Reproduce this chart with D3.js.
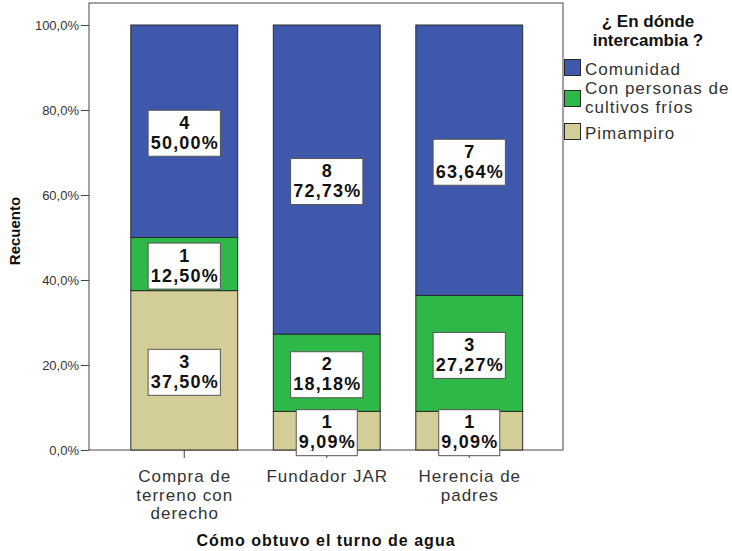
<!DOCTYPE html>
<html>
<head>
<meta charset="utf-8">
<script src="https://cdn.jsdelivr.net/npm/d3@7"></script>
<style>
  html, body { margin: 0; padding: 0; background: #fff; }
  svg { display: block; font-family: "Liberation Sans", Arial, sans-serif; }
</style>
</head>
<body>
<svg id="chart" width="732" height="551"></svg>
<script>
// ---- data ----
const categories = ["Compra de terreno con derecho", "Fundador JAR", "Herencia de padres"];
const categoryLines = [["Compra de", "terreno con", "derecho"], ["Fundador JAR"], ["Herencia de", "padres"]];
const seriesNames = ["Comunidad", "Con personas de cultivos fríos", "Pimampiro"];
const seriesLegendLines = [["Comunidad"], ["Con personas de", "cultivos fríos"], ["Pimampiro"]];
const comunidadCount = [4, 8, 7];
const conPersonasCount = [1, 2, 3];
const pimampiroCount = [3, 1, 1];
const comunidadPct = [50.00, 72.73, 63.64];
const conPersonasPct = [12.50, 18.18, 27.27];
const pimampiroPct = [37.50, 9.09, 9.09];
const yTicks = [0, 20, 40, 60, 80, 100];
const colors = ["#3E58AC", "#2EB848", "#D3CE97"];

const svg = d3.select("#chart");
const frame = { left: 89, top: 3, right: 563, bottom: 450 };

const y = d3.scaleLinear().domain([0, 100]).range([450, 25]);
const x = d3.scaleBand().domain(categories).range([113, 540.5])
  .paddingInner(0.25).paddingOuter(0.125);

// stacked rows: bottom -> top
const rows = categories.map((c, i) => ({
  cat: c,
  Pimampiro: pimampiroPct[i],
  "Con personas de cultivos fríos": conPersonasPct[i],
  Comunidad: comunidadPct[i],
  counts: { Pimampiro: pimampiroCount[i], "Con personas de cultivos fríos": conPersonasCount[i], Comunidad: comunidadCount[i] }
}));
const stackKeys = ["Pimampiro", "Con personas de cultivos fríos", "Comunidad"];
const stacked = d3.stack().keys(stackKeys)(rows);
const color = d3.scaleOrdinal().domain(seriesNames).range(colors);

// frame
svg.append("rect")
  .attr("x", frame.left).attr("y", frame.top)
  .attr("width", frame.right - frame.left).attr("height", frame.bottom - frame.top)
  .attr("fill", "none").attr("stroke", "#444").attr("stroke-width", 1);

// bars
const g = svg.append("g");
stacked.forEach(layer => {
  g.selectAll(null).data(layer).enter().append("rect")
    .attr("x", d => x(d.data.cat))
    .attr("y", d => y(d[1]))
    .attr("width", x.bandwidth())
    .attr("height", d => y(d[0]) - y(d[1]))
    .attr("fill", color(layer.key))
    .attr("stroke", "#2a2a2a")
    .attr("stroke-width", 1);
});

// y axis
const yAxis = d3.axisLeft(y).tickValues(yTicks).tickSize(8).tickPadding(2)
  .tickFormat(d => d3.format(".1f")(d).replace(".", ",") + "%");
const ya = svg.append("g").attr("transform", `translate(${frame.left},0)`).call(yAxis);
ya.select(".domain").remove();
ya.selectAll("line").attr("stroke", "#444");
ya.selectAll("text").attr("font-size", 13).attr("fill", "#333")
  .attr("font-family", '"Liberation Sans", Arial, sans-serif');

// x axis ticks
const xa = svg.append("g").attr("transform", `translate(0,${frame.bottom})`)
  .call(d3.axisBottom(x).tickSize(8).tickFormat(""));
xa.select(".domain").remove();
xa.selectAll("line").attr("stroke", "#444");

// category labels
categories.forEach((c, i) => {
  const cx = x(c) + x.bandwidth() / 2 + 0.5;
  const t = svg.append("text")
    .attr("text-anchor", "middle")
    .attr("font-size", 17).attr("letter-spacing", 1).attr("fill", "#333");
  categoryLines[i].forEach((ln, j) => {
    t.append("tspan").attr("x", cx).attr("y", 482 + j * 18.5).text(ln);
  });
});

// value label boxes (two lines)
stacked.forEach(layer => {
  layer.forEach(d => {
    const cx = x(d.data.cat) + x.bandwidth() / 2;
    const cy = (y(d[0]) + y(d[1])) / 2 + 2;
    const count = d.data.counts[layer.key];
    const pctTxt = d3.format(".2f")(d[1] - d[0]).replace(".", ",") + "%";
    const lg = svg.append("g");
    const box = lg.append("rect");
    const t = lg.append("text").attr("text-anchor", "middle")
      .attr("font-size", 18).attr("font-weight", "bold").attr("letter-spacing", 1.2)
      .attr("fill", "#111");
    const s1 = t.append("tspan").attr("x", cx + 0.6).attr("y", cy - 4.5).text(count);
    const s2 = t.append("tspan").attr("x", cx + 0.6).attr("y", cy + 15.5).text(pctTxt);
    const w = Math.max(s1.node().getComputedTextLength(), s2.node().getComputedTextLength()) + 4;
    box.attr("x", cx - w / 2).attr("y", cy - 23).attr("width", w).attr("height", 46)
      .attr("fill", "#fff").attr("stroke", "#555").attr("stroke-width", 1);
  });
});

// y axis title
svg.append("text")
  .attr("transform", "translate(20,231) rotate(-90)")
  .attr("text-anchor", "middle").attr("font-size", 15).attr("font-weight", "bold")
  .attr("fill", "#111").text("Recuento");

// x axis title
svg.append("text")
  .attr("x", 326).attr("y", 546)
  .attr("text-anchor", "middle").attr("font-size", 16).attr("font-weight", "bold")
  .attr("letter-spacing", 1).attr("fill", "#111")
  .text("Cómo obtuvo el turno de agua");

// legend
const lt = svg.append("text").attr("text-anchor", "middle")
  .attr("font-size", 17).attr("font-weight", "bold").attr("fill", "#111");
lt.append("tspan").attr("x", 648).attr("y", 27).text("¿ En dónde");
lt.append("tspan").attr("x", 648).attr("y", 45.5).text("intercambia ?");

const swatchY = [59, 90, 123];
const textY = [[75], [94, 112.5], [138.5]];
seriesNames.forEach((s, i) => {
  svg.append("rect").attr("x", 564.5).attr("y", swatchY[i] + 0.5)
    .attr("width", 16).attr("height", 16)
    .attr("fill", color(s)).attr("stroke", "#2a2a2a").attr("stroke-width", 1);
  const t = svg.append("text").attr("font-size", 17).attr("letter-spacing", 1).attr("fill", "#333");
  seriesLegendLines[i].forEach((ln, j) => {
    t.append("tspan").attr("x", 585).attr("y", textY[i][j]).text(ln);
  });
});
</script>
</body>
</html>
